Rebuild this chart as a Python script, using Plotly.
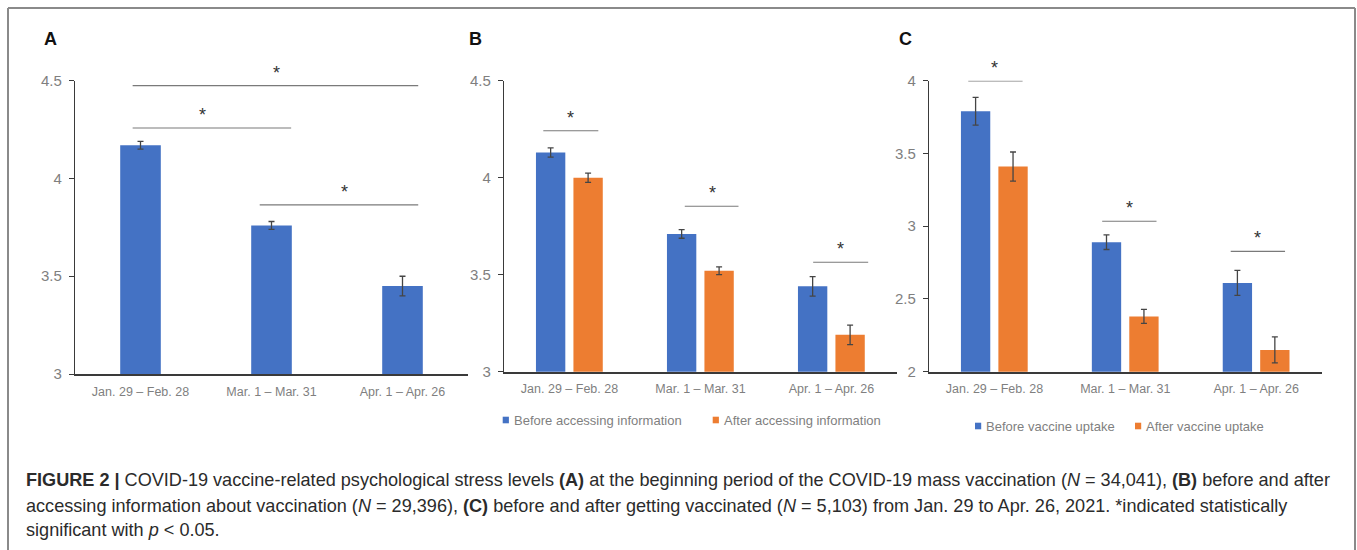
import plotly.graph_objects as go

# ---------------- data ----------------
periods = ["Jan. 29 – Feb. 28", "Mar. 1 – Mar. 31", "Apr. 1 – Apr. 26"]

a_mean = [4.17, 3.76, 3.45]
a_err = [0.02, 0.02, 0.05]

b_names = ["Before accessing information", "After accessing information"]
b_before = [4.13, 3.71, 3.44]
b_before_err = [0.024, 0.022, 0.05]
b_after = [4.00, 3.52, 3.19]
b_after_err = [0.024, 0.02, 0.05]

c_names = ["Before vaccine uptake", "After vaccine uptake"]
c_before = [3.79, 2.89, 2.61]
c_before_err = [0.095, 0.05, 0.086]
c_after = [3.41, 2.38, 2.15]
c_after_err = [0.10, 0.048, 0.089]

# significance brackets: (x start, x end, y level, star x) in category units
a_sig = [(-0.06, 2.12, 4.475, 1.04), (-0.06, 1.15, 4.258, 0.47), (0.91, 2.12, 3.865, 1.56)]
b_sig = [(-0.20, 0.22, 4.242, 0.01), (0.88, 1.29, 3.853, 1.09), (1.86, 2.28, 3.564, 2.07)]
c_sig = [(-0.20, 0.215, 3.999, 0.0), (0.823, 1.238, 3.034, 1.03), (1.805, 2.22, 2.827, 2.01)]

panel_labels = ["A", "B", "C"]
caption_lines = [
    "<b>FIGURE 2 |</b> COVID-19 vaccine-related psychological stress levels <b>(A)</b> at the beginning period of the COVID-19 mass vaccination (<i>N</i> = 34,041), <b>(B)</b> before and after",
    "accessing information about vaccination (<i>N</i> = 29,396), <b>(C)</b> before and after getting vaccinated (<i>N</i> = 5,103) from Jan. 29 to Apr. 26, 2021. *indicated statistically",
    "significant with <i>p</i> &lt; 0.05.",
]

# ---------------- style ----------------
W, H = 1357, 550
BLUE = "#4472C4"
ORANGE = "#ED7D31"
FONT = "Liberation Sans, Arial, sans-serif"
TICK_GRAY = "#7f7f7f"
ERR = "#454545"
SIG = "#7a7a7a"

def px_x(p):
    return p / W

def px_y(p):
    return 1 - p / H

xpos = list(range(len(periods)))

fig = go.Figure()

err_style = dict(type="data", color=ERR, thickness=1.3, width=3, visible=True)

# Panel A
fig.add_trace(go.Bar(x=xpos, y=a_mean, width=0.31, offset=-0.155, marker_color=BLUE,
                     marker_line_width=0, error_y=dict(array=a_err, **err_style),
                     xaxis="x", yaxis="y", showlegend=False, hoverinfo="y"))
# Panel B
fig.add_trace(go.Bar(x=xpos, y=b_before, width=0.224, offset=-0.256, marker_color=BLUE,
                     marker_line_width=0, error_y=dict(array=b_before_err, **err_style),
                     xaxis="x2", yaxis="y2", name=b_names[0], showlegend=False))
fig.add_trace(go.Bar(x=xpos, y=b_after, width=0.224, offset=0.030, marker_color=ORANGE,
                     marker_line_width=0, error_y=dict(array=b_after_err, **err_style),
                     xaxis="x2", yaxis="y2", name=b_names[1], showlegend=False))
# Panel C
fig.add_trace(go.Bar(x=xpos, y=c_before, width=0.224, offset=-0.256, marker_color=BLUE,
                     marker_line_width=0, error_y=dict(array=c_before_err, **err_style),
                     xaxis="x3", yaxis="y3", name=c_names[0], showlegend=False))
fig.add_trace(go.Bar(x=xpos, y=c_after, width=0.224, offset=0.030, marker_color=ORANGE,
                     marker_line_width=0, error_y=dict(array=c_after_err, **err_style),
                     xaxis="x3", yaxis="y3", name=c_names[1], showlegend=False))

annotations = []

# significance brackets + stars
for sig, xa, ya in [(a_sig, "x", "y"), (b_sig, "x2", "y2"), (c_sig, "x3", "y3")]:
    for x0, x1, yv, xs in sig:
        fig.add_trace(go.Scatter(x=[x0, x1], y=[yv, yv], mode="lines",
                                 line=dict(color=SIG, width=1.1), cliponaxis=False,
                                 xaxis=xa, yaxis=ya, showlegend=False, hoverinfo="skip"))
        annotations.append(dict(x=xs, y=yv, xref=xa, yref=ya, text="*",
                                showarrow=False, yanchor="bottom", yshift=1,
                                font=dict(family=FONT, size=18, color="#333333")))

# axes
panels = [
    ("", 75, 468, 374, 80.7, [3, 4.5]),
    ("2", 504, 897, 371.7, 80.7, [3, 4.5]),
    ("3", 929, 1321.7, 371.7, 80.7, [2, 4]),
]
layout_axes = {}
for suf, xl, xr, yb, yt, yr in panels:
    layout_axes["xaxis" + suf] = dict(
        domain=[px_x(xl), px_x(xr)], range=[-0.5, 2.5], tickvals=xpos, ticktext=periods,
        showline=True, linecolor="#3a3a3a", linewidth=1.5, ticks="", showgrid=False,
        zeroline=False, tickfont=dict(family=FONT, size=12.5, color=TICK_GRAY),
        anchor="y" + suf, fixedrange=True, ticklabelstandoff=5, automargin=False)
    layout_axes["yaxis" + suf] = dict(
        domain=[px_y(yb), px_y(yt)], range=yr, dtick=0.5, tick0=0,
        showline=True, linecolor="#3a3a3a", linewidth=1.3, ticks="outside", ticklen=5,
        tickcolor="#3a3a3a", tickwidth=1.2, showgrid=False, zeroline=False,
        tickfont=dict(family=FONT, size=15, color=TICK_GRAY),
        anchor="x" + suf, fixedrange=True, ticklabelstandoff=4, automargin=False)

# panel labels
for lab, xc in zip(panel_labels, [50, 475, 905]):
    annotations.append(dict(x=px_x(xc), y=px_y(39), xref="paper", yref="paper",
                            text="<b>" + lab + "</b>",
                            showarrow=False, xanchor="center", yanchor="middle",
                            font=dict(family=FONT, size=18, color="#111111")))

# manual legends
shapes = []
legend_items = [
    (b_names[0], BLUE, 502.7, 420),
    (b_names[1], ORANGE, 712.7, 420),
    (c_names[0], BLUE, 975, 426),
    (c_names[1], ORANGE, 1135, 426),
]
for name, col, x0, yc in legend_items:
    shapes.append(dict(type="rect", xref="paper", yref="paper",
                       x0=px_x(x0), x1=px_x(x0 + 6.2), y0=px_y(yc + 3.3), y1=px_y(yc - 3.3),
                       fillcolor=col, line=dict(width=0)))
    annotations.append(dict(x=px_x(x0 + 9), y=px_y(yc), xref="paper", yref="paper",
                            text=name, showarrow=False, xanchor="left", yanchor="middle",
                            font=dict(family=FONT, size=13, color=TICK_GRAY)))

# caption
for line, yc in zip(caption_lines, [480, 505.5, 530]):
    annotations.append(dict(x=px_x(24), y=px_y(yc), xref="paper", yref="paper", text=line,
                            showarrow=False, xanchor="left", yanchor="middle",
                            font=dict(family=FONT, size=18.1, color="#2b2b2b")))

# frame (top, left, right)
frame_col = "#8a8a8a"
shapes.append(dict(type="line", xref="paper", yref="paper", x0=px_x(8), x1=px_x(1355),
                   y0=px_y(8), y1=px_y(8), line=dict(color=frame_col, width=2)))
shapes.append(dict(type="line", xref="paper", yref="paper", x0=px_x(8), x1=px_x(8),
                   y0=px_y(8), y1=0, line=dict(color=frame_col, width=2)))
shapes.append(dict(type="line", xref="paper", yref="paper", x0=px_x(1355), x1=px_x(1355),
                   y0=px_y(8), y1=0, line=dict(color=frame_col, width=2)))

fig.update_layout(
    width=W, height=H, margin=dict(l=0, r=0, t=0, b=0, pad=0, autoexpand=False),
    paper_bgcolor="white", plot_bgcolor="white",
    showlegend=False, barmode="overlay",
    annotations=annotations, shapes=shapes,
    font=dict(family=FONT),
    **layout_axes,
)

fig.write_html("out.html", config={"displayModeBar": False},
               post_script="document.body.style.margin='0';document.body.style.overflow='hidden';")
